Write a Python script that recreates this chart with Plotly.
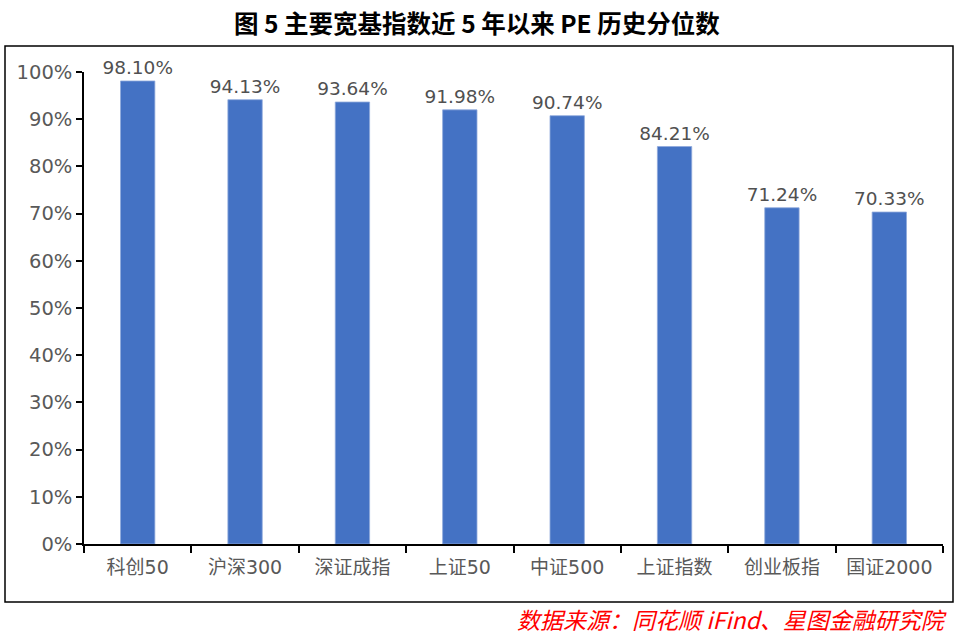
import plotly.graph_objects as go

categories = ["科创50", "沪深300", "深证成指", "上证50", "中证500", "上证指数", "创业板指", "国证2000"]
values = [98.10, 94.13, 93.64, 91.98, 90.74, 84.21, 71.24, 70.33]
y_ticks = [0, 10, 20, 30, 40, 50, 60, 70, 80, 90, 100]
y_tick_labels = [f"{v}%" for v in y_ticks]
labels = [f"{v:.2f}%" for v in values]

W, H = 960, 637
L, R, T, B = 84, 17, 72, 93
pw, ph = W - L - R, H - T - B

def px(x):
    return (x - L) / pw

def py(y):
    return (H - B - y) / ph

FONT = "DejaVu Sans, Noto Sans CJK SC"

fig = go.Figure(go.Bar(
    x=categories, y=values, text=labels, textposition="outside",
    constraintext="none",
    textfont=dict(size=18.5, color="#505050", family=FONT),
    marker=dict(color="#4472C4", line=dict(color="#8FAADC", width=0.8)),
    cliponaxis=False, width=0.32,
))

fig.update_layout(
    width=W, height=H, margin=dict(l=L, r=R, t=T, b=B),
    paper_bgcolor="white", plot_bgcolor="white", showlegend=False,
    font=dict(family=FONT, color="#595959"),
    xaxis=dict(showline=True, linecolor="black", linewidth=1.5, ticks="outside",
               tickson="boundaries", ticklen=7, tickwidth=1.5, tickcolor="black",
               ticklabelstandoff=5,
               tickfont=dict(size=19, color="#595959", family=FONT), showgrid=False),
    yaxis=dict(range=[0, 100], tickvals=y_ticks, ticktext=y_tick_labels,
               showline=True, linecolor="black", linewidth=1.5, ticks="outside",
               ticklen=6, tickwidth=1.5, tickcolor="black", showgrid=False,
               zeroline=False, tickfont=dict(size=19.5, color="#595959", family=FONT)),
    shapes=[dict(type="rect", xref="paper", yref="paper",
                 x0=px(5), x1=px(953), y0=py(602), y1=py(46),
                 line=dict(color="black", width=1.5), layer="below")],
    annotations=[
        dict(text="<b>图 5 主要宽基指数近 5 年以来 PE 历史分位数</b>", xref="paper", yref="paper",
             x=px(477), y=py(23), xanchor="center", yanchor="middle", showarrow=False,
             font=dict(size=24.5, color="black", family="Noto Sans CJK SC")),
        dict(text="<i>数据来源：同花顺 iFind、星图金融研究院</i>", xref="paper", yref="paper",
             x=px(949), y=py(619), xanchor="right", yanchor="middle", showarrow=False,
             font=dict(size=23, color="#FF0000", family="Noto Sans CJK SC")),
    ],
)

fig.write_html("out.html", config={"displayModeBar": False},
               post_script="document.body.style.margin='0';")
